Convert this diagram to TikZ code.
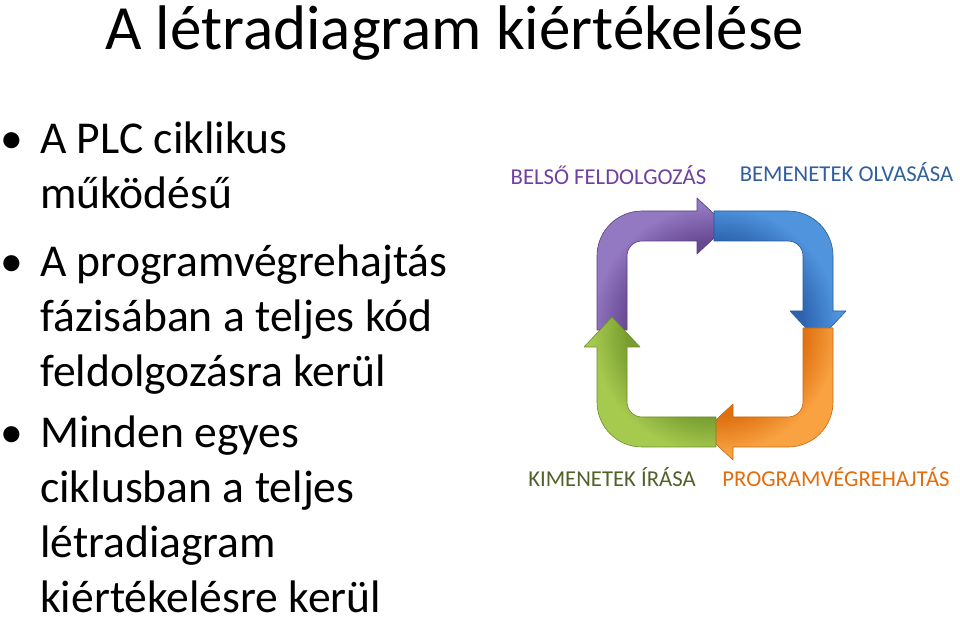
\documentclass[tikz,border=0pt]{standalone}
\usepackage{fontspec}
\setmainfont{Carlito}
\definecolor{purpA}{HTML}{9379C2}
\definecolor{purpB}{HTML}{684893}
\definecolor{purpE}{HTML}{5A3E80}
\definecolor{blueA}{HTML}{5094DE}
\definecolor{blueB}{HTML}{2D64AF}
\definecolor{blueE}{HTML}{255A9C}
\definecolor{orA}{HTML}{F9A242}
\definecolor{orB}{HTML}{DE7010}
\definecolor{orE}{HTML}{C8680E}
\definecolor{grA}{HTML}{A6CA4E}
\definecolor{grB}{HTML}{799D30}
\definecolor{grE}{HTML}{6C8C2A}
\definecolor{labP}{HTML}{7040A0}
\definecolor{labB}{HTML}{2F5F9E}
\definecolor{labG}{HTML}{4F6228}
\definecolor{labO}{HTML}{E46C0A}
\pgfdeclareradialshading{loopP}{\pgfpoint{0bp}{0bp}}{color(0bp)=(purpB); color(11bp)=(purpB); color(15.5bp)=(purpA); color(50bp)=(purpA)}
\pgfdeclareradialshading{loopB}{\pgfpoint{0bp}{0bp}}{color(0bp)=(blueB); color(11bp)=(blueB); color(15.5bp)=(blueA); color(50bp)=(blueA)}
\pgfdeclareradialshading{loopO}{\pgfpoint{0bp}{0bp}}{color(0bp)=(orB); color(11bp)=(orB); color(15.5bp)=(orA); color(50bp)=(orA)}
\pgfdeclareradialshading{loopG}{\pgfpoint{0bp}{0bp}}{color(0bp)=(grB); color(11bp)=(grB); color(15.5bp)=(grA); color(50bp)=(grA)}
\tikzset{
  bodytext/.style={anchor=base west, inner sep=0pt, font=\fontsize{45.6}{55}\selectfont},
  bulletmark/.style={anchor=base, inner sep=0pt, font=\fontsize{45.6}{55}\selectfont},
  steplabel/.style={anchor=base, inner sep=0pt, font=\fontsize{22.7}{26}\selectfont},
  bentarrow/.style={line width=0.6pt, line join=round},
}
\newcommand{\bentpath}{(-118,-1) -- (-118,73) arc[start angle=180, end angle=90, radius=45]
  -- (-18,118) -- (-18,131) -- (12,103) -- (-18,75) -- (-18,88) -- (-73,88)
  arc[start angle=90, end angle=180, radius=15] -- (-88,-1) -- cycle}
\newcommand{\loopArrow}[2]{%
  \begin{scope}
    \clip \bentpath;
    \shade[shading=#1] (0,0) circle (200);
  \end{scope}
  \draw[bentarrow, draw=#2] \bentpath;}
\begin{document}
\begin{tikzpicture}[x=1pt,y=1pt]
\useasboundingbox (0,0) rectangle (960,623);
% title
\node[anchor=base west, inner sep=0pt, font=\fontsize{63}{70}\selectfont] (title) at (105,573) {A létradiagram kiértékelése};
% bullets
\node[bulletmark] (b1) at (12,469) {•};
\node[bodytext] (l1) at (40,469) {A PLC ciklikus};
\node[bodytext] (l2) at (40,414) {működésű};
\node[bulletmark] (b2) at (12,346) {•};
\node[bodytext] (l3) at (40,346) {A programvégrehajtás};
\node[bodytext] (l4) at (40,291) {fázisában a teljes kód};
\node[bodytext] (l5) at (40,236) {feldolgozásra kerül};
\node[bulletmark] (b3) at (12,175) {•};
\node[bodytext] (l6) at (40,175) {Minden egyes};
\node[bodytext] (l7) at (40,120) {ciklusban a teljes};
\node[bodytext] (l8) at (40,65) {létradiagram};
\node[bodytext] (l9) at (40,10) {kiértékelésre kerül};
% cycle arrows
\begin{scope}[shift={(715,294)}]
  \loopArrow{loopP}{purpE}
  \begin{scope}[rotate=-90]
    \loopArrow{loopB}{blueE}
  \end{scope}
  \begin{scope}[rotate=-180]
    \loopArrow{loopO}{orE}
  \end{scope}
  \begin{scope}[rotate=-270]
    \loopArrow{loopG}{grE}
  \end{scope}
\end{scope}
% labels
\node[steplabel, text=labP] (belso) at (608.5,438) {BELSŐ FELDOLGOZÁS};
\node[steplabel, text=labB] (bemenet) at (846.5,441) {BEMENETEK OLVASÁSA};
\node[steplabel, text=labG] (kimenet) at (612,136) {KIMENETEK ÍRÁSA};
\node[steplabel, text=labO] (program) at (836,136) {PROGRAMVÉGREHAJTÁS};
\end{tikzpicture}
\end{document}
